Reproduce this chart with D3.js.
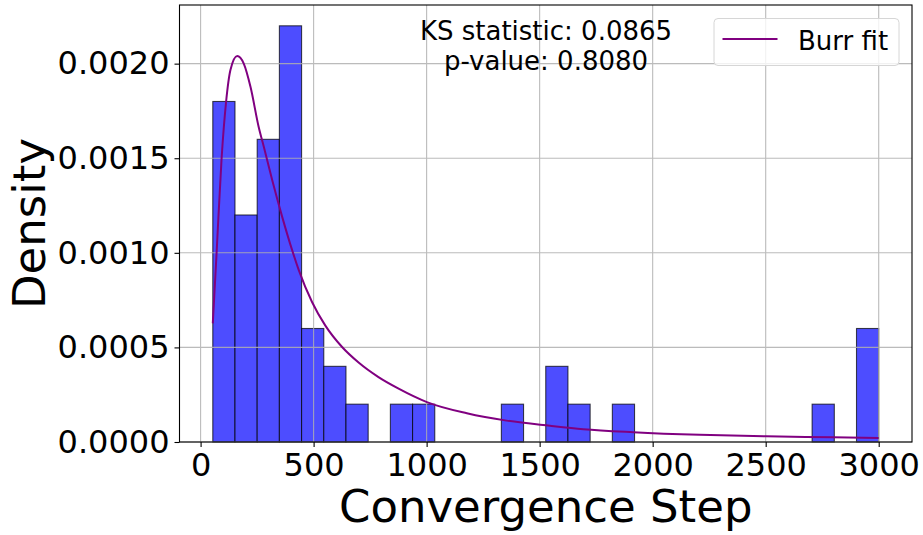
<!DOCTYPE html>
<html>
<head>
<meta charset="utf-8">
<script src="https://cdn.jsdelivr.net/npm/d3@7"></script>
<style>
  html, body { margin: 0; padding: 0; background: #fff; }
  svg { display: block; font-family: "DejaVu Sans", sans-serif; }
</style>
</head>
<body>
<svg id="chart" width="923" height="535"></svg>
<script>
// ---- data ----
const binMin = 54;
const binMax = 3000;
const binDensity = [0.0018, 0.0012, 0.0016, 0.0022, 0.0006, 0.0004, 0.0002, 0, 0.0002, 0.0002,
                    0, 0, 0, 0.0002, 0, 0.0004, 0.0002, 0, 0.0002, 0,
                    0, 0, 0, 0, 0, 0, 0, 0.0002, 0, 0.0006];
const fitX = [54, 71, 93, 113, 132, 162, 191, 221, 257, 280, 317, 361, 405, 434, 493, 552, 626, 699,
              787, 876, 1001, 1178, 1354, 1546, 1693, 1914, 2208, 2503, 2797, 3000];
const fitY = [0.000627, 0.001004, 0.001501, 0.0018, 0.001966, 0.00204, 0.0020, 0.001876, 0.001665,
              0.001559, 0.001383, 0.00119, 0.001014, 0.00091, 0.00074, 0.000615, 0.000502, 0.00042,
              0.000343, 0.000282, 0.000211, 0.000152, 0.000113, 0.000086, 0.000068, 0.000052, 0.000038,
              0.00003, 0.000025, 0.000021];
const xTicks = [0, 500, 1000, 1500, 2000, 2500, 3000];
const yTicks = [0, 0.0005, 0.0010, 0.0015, 0.0020];
const statLines = ["KS statistic: 0.0865", "p-value: 0.8080"];
const legendLabel = "Burr fit";
const xLabel = "Convergence Step";
const yLabel = "Density";

// ---- layout ----
const L = 179.5, R = 912, T = 5, B = 442;
const svg = d3.select("#chart");

const span = binMax - binMin;
const x = d3.scaleLinear().domain([binMin - 0.05 * span, binMax + 0.05 * span]).range([L, R]);
const yMax = d3.max(binDensity) * 1.05;
const y = d3.scaleLinear().domain([0, yMax]).range([B, T]);

const nb = binDensity.length;
const bw = span / nb;
const bins = binDensity.map((d, i) => ({ x0: binMin + i * bw, x1: binMin + (i + 1) * bw, d }));

// bars
svg.append("g").selectAll("rect")
  .data(bins.filter(b => b.d > 0))
  .join("rect")
  .attr("x", b => x(b.x0))
  .attr("y", b => y(b.d))
  .attr("width", b => x(b.x1) - x(b.x0))
  .attr("height", b => y(0) - y(b.d))
  .attr("fill", "rgb(77,77,255)")
  .attr("stroke", "rgba(0,0,0,0.7)")
  .attr("stroke-width", 1.1);

// grid (above bars, below line)
const grid = svg.append("g").attr("stroke", "#b0b0b0").attr("stroke-width", 1.1).attr("opacity", 0.85);
grid.selectAll("line.gx").data(xTicks).join("line")
  .attr("x1", d => x(d)).attr("x2", d => x(d)).attr("y1", T).attr("y2", B);
grid.selectAll("line.gy").data(yTicks).join("line")
  .attr("x1", L).attr("x2", R).attr("y1", d => y(d)).attr("y2", d => y(d));

// fit line
const line = d3.line().x(d => x(d[0])).y(d => y(d[1])).curve(d3.curveMonotoneX);
svg.append("path")
  .datum(fitX.map((v, i) => [v, fitY[i]]))
  .attr("d", line)
  .attr("fill", "none")
  .attr("stroke", "#800080")
  .attr("stroke-width", 2);

// axes
const xAxis = d3.axisBottom(x).tickValues(xTicks).tickSize(5).tickPadding(6).tickFormat(d3.format("d"));
const gx = svg.append("g").attr("transform", `translate(0,${B})`).call(xAxis);
gx.select(".domain").remove();
gx.selectAll("text").attr("font-size", 32).attr("fill", "#000").attr("font-family", "DejaVu Sans");
gx.selectAll("line").attr("stroke", "#000").attr("stroke-width", 1.1);

const yAxis = d3.axisLeft(y).tickValues(yTicks).tickSize(5).tickPadding(5).tickFormat(d3.format(".4f"));
const gy = svg.append("g").attr("transform", `translate(${L},0)`).call(yAxis);
gy.select(".domain").remove();
gy.selectAll("text").attr("font-size", 32).attr("fill", "#000").attr("font-family", "DejaVu Sans");
gy.selectAll("line").attr("stroke", "#000").attr("stroke-width", 1.1);

// frame
svg.append("rect").attr("x", L).attr("y", T).attr("width", R - L).attr("height", B - T)
  .attr("fill", "none").attr("stroke", "#000").attr("stroke-width", 1.1);

// labels
svg.append("text").attr("x", (L + R) / 2).attr("y", 522).attr("text-anchor", "middle")
  .attr("font-size", 45).text(xLabel);
svg.append("text").attr("transform", `translate(45,${(T + B) / 2}) rotate(-90)`)
  .attr("text-anchor", "middle").attr("font-size", 45).text(yLabel);

// stats text
svg.append("g").selectAll("text").data(statLines).join("text")
  .attr("x", 546).attr("y", (d, i) => 40 + i * 30)
  .attr("text-anchor", "middle").attr("font-size", 26).text(d => d);

// legend
const lg = svg.append("g");
lg.append("rect").attr("x", 714).attr("y", 18.5).attr("width", 185).attr("height", 47).attr("rx", 4)
  .attr("fill", "rgba(255,255,255,0.8)").attr("stroke", "#d6d6d6").attr("stroke-width", 1);
lg.append("line").attr("x1", 722.5).attr("x2", 777.5).attr("y1", 39).attr("y2", 39)
  .attr("stroke", "#800080").attr("stroke-width", 2);
lg.append("text").attr("x", 798).attr("y", 49.5).attr("font-size", 26).text(legendLabel);
</script>
</body>
</html>
